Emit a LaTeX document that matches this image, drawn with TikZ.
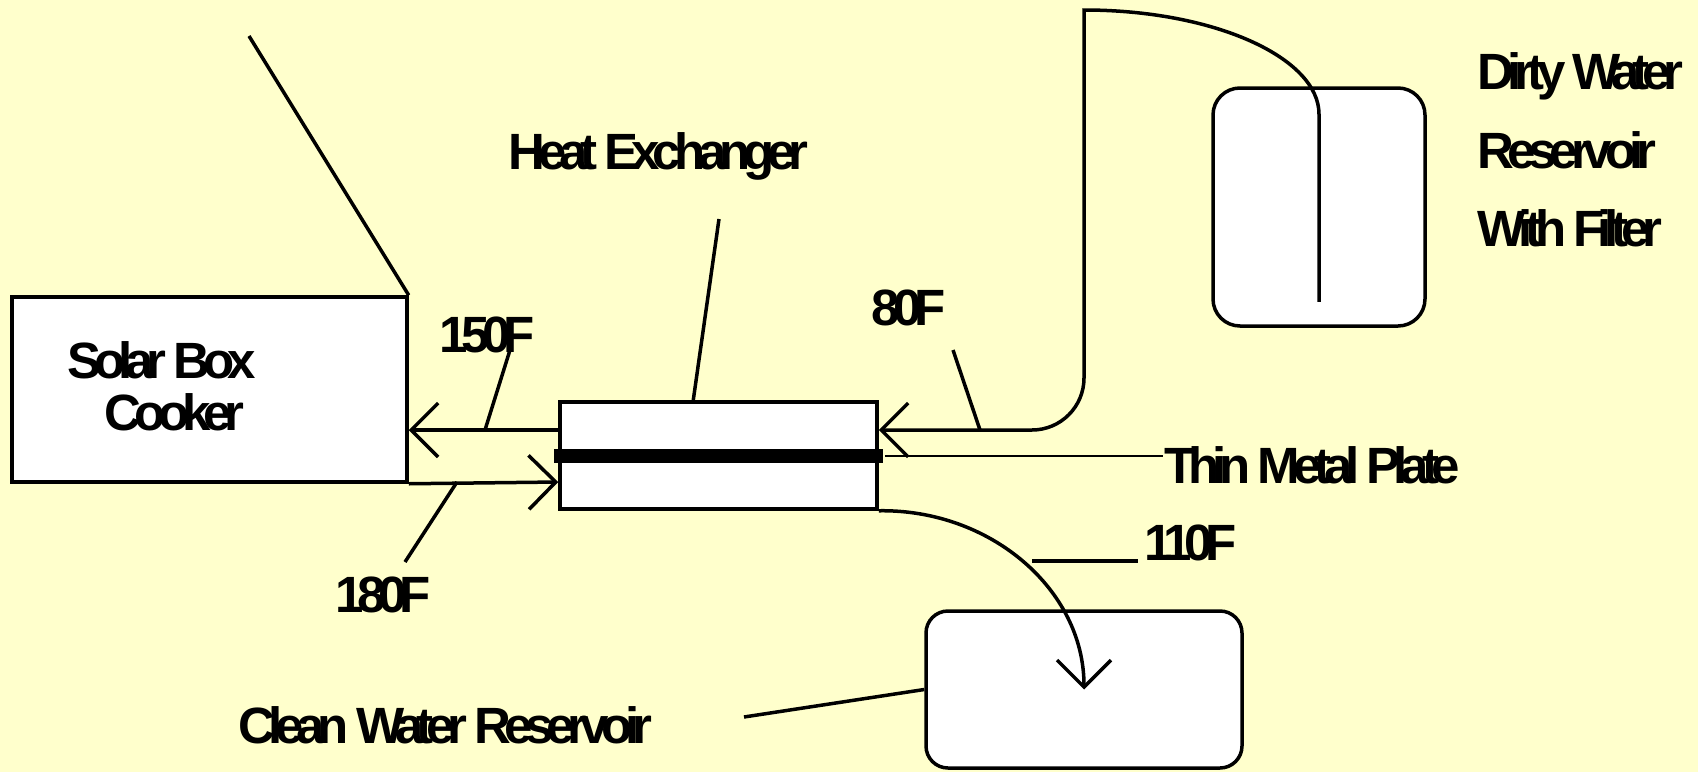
\documentclass[tikz,border=0pt]{standalone}
\usepackage{fontspec}
\newfontfamily\lblfont{Liberation Sans}[BoldFont={},UprightFont=* Bold,LetterSpace=-14]
\usetikzlibrary{arrows.meta,calc}
\definecolor{bgyellow}{RGB}{255,255,204}
\begin{document}
\begin{tikzpicture}[x=1pt,y=-1pt,line width=3.5pt,
  box/.style={draw,fill=white,line width=3.5pt,inner sep=0pt},
  lbl/.style={font=\lblfont\fontsize{51}{60}\selectfont,inner sep=0pt,anchor=base west},
  arr/.style={-{Straight Barb[length=27pt,width=54pt]}}]
\fill[bgyellow] (0,0) rectangle (1698,772);
\useasboundingbox (0,0) rectangle (1698,772);
% boxes
\node[box,minimum width=395pt,minimum height=185pt] (solar) at (209.5,389.5) {};
\node[box,minimum width=317pt,minimum height=107pt] (hx) at (718.5,455.5) {};
\node[box,rounded corners=27pt,minimum width=212pt,minimum height=238pt] (dirty) at (1319,207) {};
\node[box,rounded corners=22pt,minimum width=316pt,minimum height=157pt] (clean) at (1084,689.5) {};
\node[fill=black,inner sep=0pt,minimum width=329pt,minimum height=14pt] (plate) at (718.5,456) {};
% labels
\node[lbl] (sb1) at (66,378) {Solar Box};
\node[lbl] (sb2) at (103,430) {Cooker};
\node[lbl] (hxl) at (507,169) {Heat Exchanger};
\node[lbl] (t150) at (438,352) {150F};
\node[lbl] (t180) at (334,612) {180F};
\node[lbl] (t80) at (870,325) {80F};
\node[lbl] (t110) at (1143,560) {110F};
\node[lbl] (tmp) at (1163,483) {Thin Metal Plate};
\node[lbl] (dw1) at (1476,89) {Dirty Water};
\node[lbl] (dw2) at (1476,168) {Reservoir};
\node[lbl] (dw3) at (1476,246) {With Filter};
\node[lbl] (cw) at (237,743) {Clean Water Reservoir};
% pipe coordinates
\coordinate (f0) at ($(dirty.south)+(0,-26)$);
\coordinate (f1) at ($(dirty.north)+(0,28)$);
\coordinate (p1) at (1084,10);
\coordinate (p2) at (1084,378);
\coordinate (p3) at (1032,430);
\coordinate (hxR) at ($(hx.east)+(0,-25.5)$);
\coordinate (hxL) at ($(hx.west)+(0,-25.5)$);
\coordinate (hxLb) at ($(hx.west)+(0,26.5)$);
\coordinate (skT) at ($(solar.east)+(0,40.5)$);
% pipes
\draw[arr] (f0) -- (f1) .. controls (1319,57.5) and (1213.7,10) .. (p1)
  -- (p2) .. controls (1084,406.7) and (1060.7,430) .. (p3) -- (hxR);
\draw[arr] (hxL) -- (skT);
\draw[arr] (solar.south east) -- (hxLb);
\draw[arr] (hx.south east) .. controls (991,509) and (1084,590) .. (clean.center);
% leaders
\coordinate (lt) at (249,36);
\draw (lt) -- (solar.north east);
\coordinate (a150) at (510,350); \coordinate (b150) at (485,430);
\draw (a150) -- (b150);
\coordinate (a180) at (405,562); \coordinate (b180) at (457,482);
\draw (a180) -- (b180);
\coordinate (ahx) at (719,219); \coordinate (bhx) at (693,402);
\draw (ahx) -- (bhx);
\coordinate (a80) at (953,350); \coordinate (b80) at (980,430);
\draw (a80) -- (b80);
\coordinate (a110) at (1032,561); \coordinate (b110) at (1138,561);
\draw (a110) -- (b110);
\coordinate (acw) at (744,717);
\draw (acw) -- (clean.west);
\draw[line width=2.5pt] (plate.east) -- (plate.east -| tmp.west);
\end{tikzpicture}
\end{document}
